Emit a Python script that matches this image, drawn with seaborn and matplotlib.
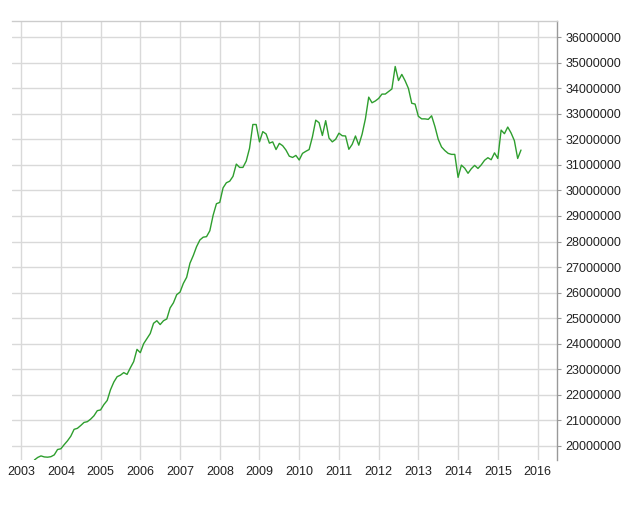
import matplotlib
matplotlib.use("Agg")
import matplotlib.pyplot as plt
import seaborn as sns
import pandas as pd
import numpy as np

# Monthly values (millions), May 2003 .. Aug 2015
v2003 = [19.45, 19.55, 19.61, 19.57, 19.56, 19.58, 19.65, 19.86]
v2004 = [19.89, 20.05, 20.20, 20.38, 20.65, 20.69, 20.80, 20.92, 20.95, 21.05, 21.18, 21.38]
v2005 = [21.41, 21.62, 21.78, 22.20, 22.50, 22.71, 22.77, 22.87, 22.80, 23.06, 23.30, 23.78]
v2006 = [23.65, 24.00, 24.20, 24.40, 24.80, 24.90, 24.75, 24.90, 24.97, 25.40, 25.60, 25.92]
v2007 = [26.02, 26.36, 26.60, 27.15, 27.45, 27.80, 28.06, 28.17, 28.19, 28.42, 29.03, 29.48]
v2008 = [29.53, 30.10, 30.30, 30.36, 30.55, 31.03, 30.90, 30.90, 31.15, 31.65, 32.58, 32.58]
v2009 = [31.90, 32.30, 32.21, 31.85, 31.90, 31.60, 31.84, 31.75, 31.58, 31.34, 31.29, 31.37]
v2010 = [31.19, 31.45, 31.53, 31.60, 32.10, 32.75, 32.65, 32.15, 32.73, 32.05, 31.90, 32.00]
v2011 = [32.24, 32.14, 32.13, 31.61, 31.80, 32.13, 31.77, 32.20, 32.80, 33.65, 33.43, 33.50]
v2012 = [33.60, 33.77, 33.77, 33.87, 33.97, 34.85, 34.30, 34.54, 34.29, 33.99, 33.41, 33.38]
v2013 = [32.90, 32.80, 32.80, 32.78, 32.92, 32.50, 32.00, 31.70, 31.56, 31.45, 31.41, 31.41]
v2014 = [30.51, 30.99, 30.87, 30.67, 30.85, 30.98, 30.86, 31.00, 31.18, 31.28, 31.20, 31.47]
v2015 = [31.25, 32.36, 32.22, 32.48, 32.25, 31.95, 31.25, 31.58]

values = (v2003 + v2004 + v2005 + v2006 + v2007 + v2008 + v2009 + v2010
          + v2011 + v2012 + v2013 + v2014 + v2015)
dates = [2003 + (4 + i) / 12 for i in range(len(values))]

year_ticks = list(range(2003, 2017))
y_ticks = list(range(20000000, 36000001, 1000000))

df = pd.DataFrame({"date": dates, "value": [v * 1e6 for v in values]})

sns.set_style("white")
plt.rcParams["font.family"] = ["Liberation Sans", "DejaVu Sans"]

fig = plt.figure(figsize=(6.4, 5.15), dpi=100)
ax = fig.add_axes([12 / 640, 1 - 460 / 515, (557 - 12) / 640, (460 - 21) / 515])

sns.lineplot(data=df, x="date", y="value", ax=ax, color="#2e9e2e", linewidth=1.0)

ax.set_xlim(2002.77, 2016.49)
ax.set_ylim(19.45e6, 36.63e6)
ax.set_xticks(year_ticks)
ax.set_xticklabels([str(y) for y in year_ticks])
ax.set_yticks(y_ticks)
ax.set_yticklabels([str(y) for y in y_ticks])
ax.yaxis.tick_right()
ax.grid(True, color="#d9d9d9", linewidth=1.0)
ax.set_axisbelow(True)
ax.set_xlabel("")
ax.set_ylabel("")

for side in ["left", "bottom"]:
    ax.spines[side].set_visible(False)
ax.spines["top"].set_color("#cccccc")
ax.spines["top"].set_linewidth(1.0)
ax.spines["right"].set_color("#999999")
ax.spines["right"].set_linewidth(1.0)

ax.tick_params(axis="y", which="both", right=True, left=False, length=3,
               width=0.8, color="#999999", pad=3, labelsize=9, labelcolor="#222222")
ax.tick_params(axis="x", which="both", bottom=False, length=0, pad=4,
               labelsize=9, labelcolor="#222222")

fig.savefig("out.png", dpi=100)
